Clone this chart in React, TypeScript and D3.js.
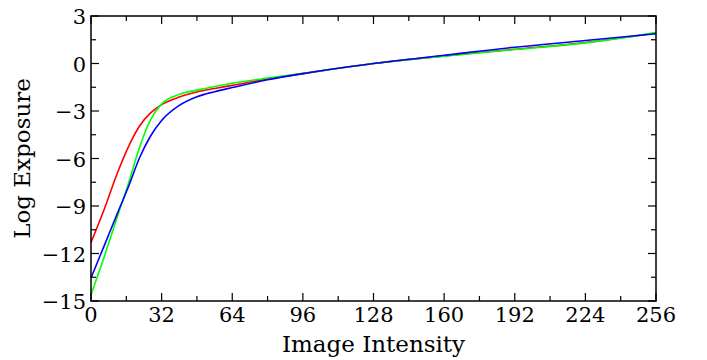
import * as d3 from "d3";

// sampled image intensities and log exposure per channel
const intensity = [0, 6, 12, 17, 22, 27, 32, 40, 48, 56, 64, 80, 96, 128, 160, 192, 224, 256];
const redCurve = [-11.3, -9.2, -6.9, -5.25, -3.95, -3.12, -2.6, -2.12, -1.8, -1.58, -1.38, -0.98, -0.64, 0, 0.48, 0.9, 1.33, 1.93];
const greenCurve = [-14.6, -12.2, -9.65, -7.56, -5.3, -3.55, -2.55, -1.95, -1.68, -1.45, -1.25, -0.92, -0.62, 0, 0.46, 0.88, 1.3, 1.95];
const blueCurve = [-13.55, -11.5, -9.45, -7.77, -5.95, -4.58, -3.6, -2.65, -2.1, -1.78, -1.52, -1.03, -0.64, 0, 0.52, 1.03, 1.45, 1.88];

const xTicks = [0, 32, 64, 96, 128, 160, 192, 224, 256];
const yTicks = [-15, -12, -9, -6, -3, 0, 3];

const series = [
  { name: "R", color: "#ff0000", values: redCurve },
  { name: "G", color: "#00ff00", values: greenCurve },
  { name: "B", color: "#0000ff", values: blueCurve },
];

const W = 707;
const H = 360;
const m = { left: 91, right: 51, top: 16, bottom: 59 };
const font = "'DejaVu Serif', 'Liberation Serif', serif";

export default function App() {
  const x = d3.scaleLinear().domain([0, 256]).range([m.left, W - m.right]);
  const y = d3.scaleLinear().domain([-15, 3]).range([H - m.bottom, m.top]);

  const line = d3
    .line<number>()
    .x((_, i) => x(intensity[i]))
    .y((d) => y(d))
    .curve(d3.curveMonotoneX);

  const xMinor = d3.range(16, 256, 32);
  const yMinor = d3.range(-13.5, 3, 3);
  const fmt = (v: number) => (v < 0 ? "\u2212" + Math.abs(v) : String(v));

  const x0 = x(0), x1 = x(256), y0 = y(-15), y1 = y(3);

  return (
    <div style={{ position: "absolute", left: 0, top: 0 }}>
      <svg width={W} height={H} style={{ display: "block", background: "#fff" }}>
        <g>
          {series.map((s) => (
            <path key={s.name} d={line(s.values) || ""} fill="none" stroke={s.color} strokeWidth={1.6} />
          ))}
        </g>
        <g stroke="#000" strokeWidth={1.2}>
          {xTicks.map((t) => (
            <g key={"xt" + t}>
              <line x1={x(t)} x2={x(t)} y1={y0} y2={y0 - 8} />
              <line x1={x(t)} x2={x(t)} y1={y1} y2={y1 + 8} />
            </g>
          ))}
          {xMinor.map((t) => (
            <g key={"xm" + t}>
              <line x1={x(t)} x2={x(t)} y1={y0} y2={y0 - 5} />
              <line x1={x(t)} x2={x(t)} y1={y1} y2={y1 + 5} />
            </g>
          ))}
          {yTicks.map((t) => (
            <g key={"yt" + t}>
              <line x1={x0} x2={x0 + 8} y1={y(t)} y2={y(t)} />
              <line x1={x1} x2={x1 - 8} y1={y(t)} y2={y(t)} />
            </g>
          ))}
          {yMinor.map((t) => (
            <g key={"ym" + t}>
              <line x1={x0} x2={x0 + 5} y1={y(t)} y2={y(t)} />
              <line x1={x1} x2={x1 - 5} y1={y(t)} y2={y(t)} />
            </g>
          ))}
        </g>
        <rect x={x0} y={y1} width={x1 - x0} height={y0 - y1} fill="none" stroke="#000" strokeWidth={1.5} />
        <g fontFamily={font} fontSize={21} fill="#000" fontWeight={300}>
          {xTicks.map((t) => (
            <text key={"xl" + t} x={x(t)} y={y0 + 21} textAnchor="middle">
              {t}
            </text>
          ))}
          {yTicks.map((t) => (
            <text key={"yl" + t} x={x0 - 5} y={y(t) + 8} textAnchor="end">
              {fmt(t)}
            </text>
          ))}
        </g>
        <g fontFamily={font} fontSize={23} fill="#000" fontWeight={300}>
          <text x={(x0 + x1) / 2} y={352} textAnchor="middle">
            Image Intensity
          </text>
          <text transform={`translate(30,${(y0 + y1) / 2}) rotate(-90)`} textAnchor="middle">
            Log Exposure
          </text>
        </g>
      </svg>
    </div>
  );
}
